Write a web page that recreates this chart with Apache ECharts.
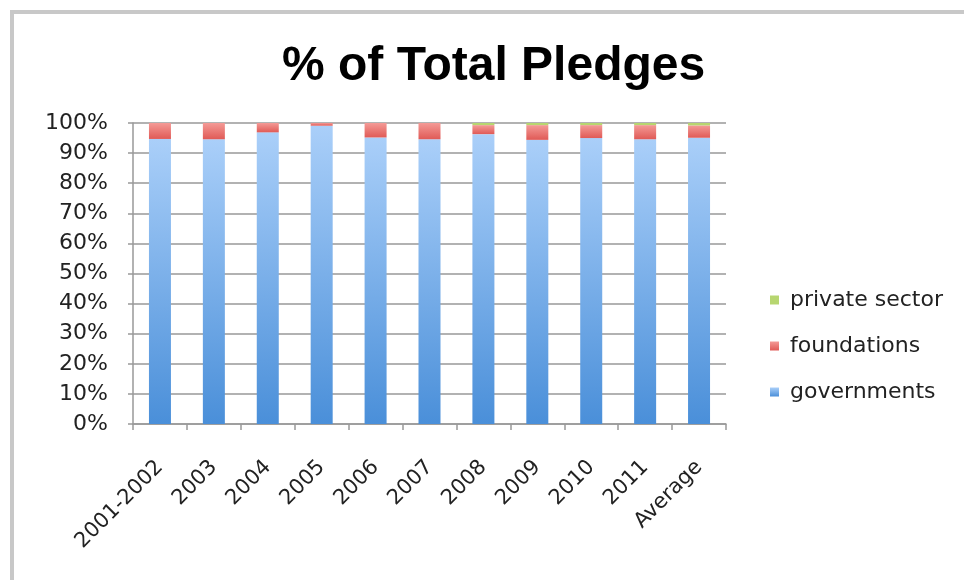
<!DOCTYPE html>
<html>
<head>
<meta charset="utf-8">
<style>html,body{margin:0;padding:0;background:#fff}#c{width:964px;height:580px}</style>
<script src="https://cdn.jsdelivr.net/npm/echarts@6/dist/echarts.min.js"></script>
</head>
<body>
<div id="c"></div>
<script>
const categories = ['2001-2002','2003','2004','2005','2006','2007','2008','2009','2010','2011','Average'];
const governments = [94.7, 94.6, 96.9, 99.1, 95.2, 94.6, 96.3, 94.4, 95.0, 94.6, 95.1];
const foundations = [5.3, 5.4, 3.1, 0.9, 4.8, 5.4, 3.0, 4.9, 4.3, 4.7, 4.1];
const privateSector = [0, 0, 0, 0, 0, 0, 0.7, 0.7, 0.7, 0.7, 0.8];

const chart = echarts.init(document.getElementById('c'));
const titleFont = 'Liberation Sans, Arial, sans-serif';
const font = 'DejaVu Sans, sans-serif';
function grad(top, bottom){
  return new echarts.graphic.LinearGradient(0,0,0,1,[{offset:0,color:top},{offset:1,color:bottom}]);
}
chart.setOption({
  animation:false,
  backgroundColor:'#fff',
  graphic:[{type:'rect',shape:{x:12,y:12,width:1000,height:1000},style:{fill:'none',stroke:'#c8c8c8',lineWidth:4},z:-1}],
  title:{text:'% of Total Pledges',left:282,top:43,padding:0,textStyle:{fontFamily:titleFont,fontSize:48,fontWeight:'bold',color:'#000'}},
  legend:{orient:'vertical',left:770,top:289,padding:0,itemGap:24,itemWidth:9,itemHeight:9,icon:'rect',
    data:['private sector','foundations','governments'],
    textStyle:{fontFamily:font,fontSize:22,color:'#222',padding:[0,0,0,6]}},
  grid:{left:133,right:238,top:123,bottom:156},
  xAxis:{type:'category',data:categories,
    axisLine:{lineStyle:{color:'#999',width:1.5}},
    axisTick:{show:true,length:6,lineStyle:{color:'#999',width:1.5}},
    axisLabel:{rotate:45,fontFamily:font,fontSize:21,color:'#222',margin:40,interval:0}},
  yAxis:{type:'value',min:0,max:100,interval:10,
    axisLine:{show:true,lineStyle:{color:'#999',width:1.5}},
    axisTick:{show:true,length:5,lineStyle:{color:'#999',width:1.5}},
    splitLine:{lineStyle:{color:'#999',width:1.5}},
    axisLabel:{fontFamily:font,fontSize:22,color:'#222',margin:25,formatter:v=>v+'%'}},
  series:[
    {name:'governments',type:'bar',stack:'t',data:governments,barWidth:22,
      itemStyle:{color:grad('#aacff9','#4a8fd9')}},
    {name:'foundations',type:'bar',stack:'t',data:foundations,barWidth:22,
      itemStyle:{color:grad('#f49a96','#e05a56')}},
    {name:'private sector',type:'bar',stack:'t',data:privateSector,barWidth:22,
      itemStyle:{color:'#b7d670'}}
  ]
});
</script>
</body>
</html>
